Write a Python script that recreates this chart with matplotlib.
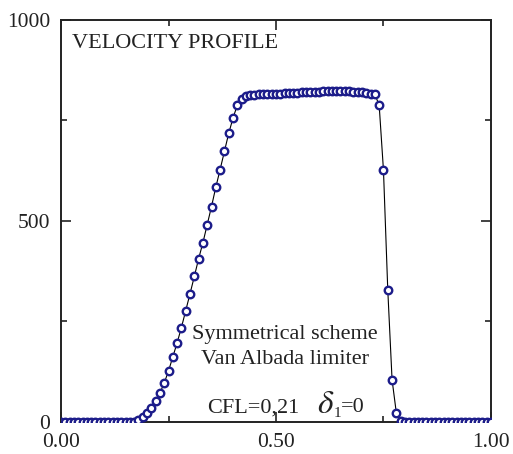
import numpy as np
import matplotlib.pyplot as plt

plt.rcParams['font.family'] = ['Liberation Serif', 'DejaVu Serif']
plt.rcParams['mathtext.fontset'] = 'stix'

# grid positions (dx = 0.01)
x = np.round(np.arange(0, 101) * 0.01, 2)

# velocity, one value per grid point
v_left = [0] * 17                      # 0.00 .. 0.16
v_rise = [0, 5, 12, 22, 35, 52, 72, 97, 127, 162, 197, 235, 277, 319, 362,
          406, 446, 491, 536, 584, 628, 673, 718, 756, 788, 803, 810]   # 0.17 .. 0.43
v_top = [813, 814, 815, 815, 816, 816, 817, 817, 818, 818, 819, 819, 820,
         820, 821, 822, 822, 823, 823, 824, 824, 824, 823, 823, 822, 821,
         820, 819, 817, 815]          # 0.44 .. 0.73
v_drop = [788, 626, 329, 105, 22, 3]  # 0.74 .. 0.79
v_right = [0] * 21                     # 0.80 .. 1.00
v = np.array(v_left + v_rise + v_top + v_drop + v_right, dtype=float)

fig = plt.figure(figsize=(5.13, 4.54), dpi=100)
ax = fig.add_axes([0.119, 0.0705, 0.838, 0.8855])

ax.plot(x, v, color='k', linewidth=0.8, zorder=2)
ax.plot(x, v, linestyle='none', marker='o', markersize=5.4,
        markerfacecolor='white', markeredgecolor='#1c1c8a',
        markeredgewidth=1.7, zorder=3)

ax.set_xlim(0, 1)
ax.set_ylim(0, 1000)
ax.set_xticks([0, 0.5, 1.0])
ax.set_xticklabels(['0.00', '0.50', '1.00'])
ax.set_xticks([0.25, 0.75], minor=True)
ax.set_yticks([0, 500, 1000])
ax.set_yticks([250, 750], minor=True)

ax.tick_params(which='both', direction='in', top=True, right=True,
               labelsize=15.5, width=1.2, colors='#222222')
ax.tick_params(which='major', length=7)
ax.tick_params(which='minor', length=4)
ax.tick_params(axis='y', pad=8)
ax.tick_params(axis='x', pad=8)
for s in ax.spines.values():
    s.set_linewidth(1.4)
    s.set_color('#222222')

tc = '#222222'
tr = ax.transAxes
ax.text(0.025, 0.965, 'VELOCITY PROFILE', transform=tr,
        ha='left', va='top', fontsize=16, color=tc)
ax.text(0.52, 0.218, 'Symmetrical scheme', transform=tr,
        ha='center', va='center', fontsize=16, color=tc)
ax.text(0.52, 0.155, 'Van Albada limiter', transform=tr,
        ha='center', va='center', fontsize=16, color=tc)
# CFL line, with an enlarged italic delta as in the original
ax.text(0.555, 0.024, 'CFL=0,21', transform=tr,
        ha='right', va='baseline', fontsize=16, color=tc)
ax.text(0.596, 0.022, r'$\mathit{\delta}$', transform=tr,
        ha='left', va='baseline', fontsize=24, color=tc)
ax.text(0.634, 0.012, '1', transform=tr,
        ha='left', va='baseline', fontsize=11, color=tc)
ax.text(0.652, 0.024, '=0', transform=tr,
        ha='left', va='baseline', fontsize=16, color=tc)

fig.savefig('out.png', dpi=100)
